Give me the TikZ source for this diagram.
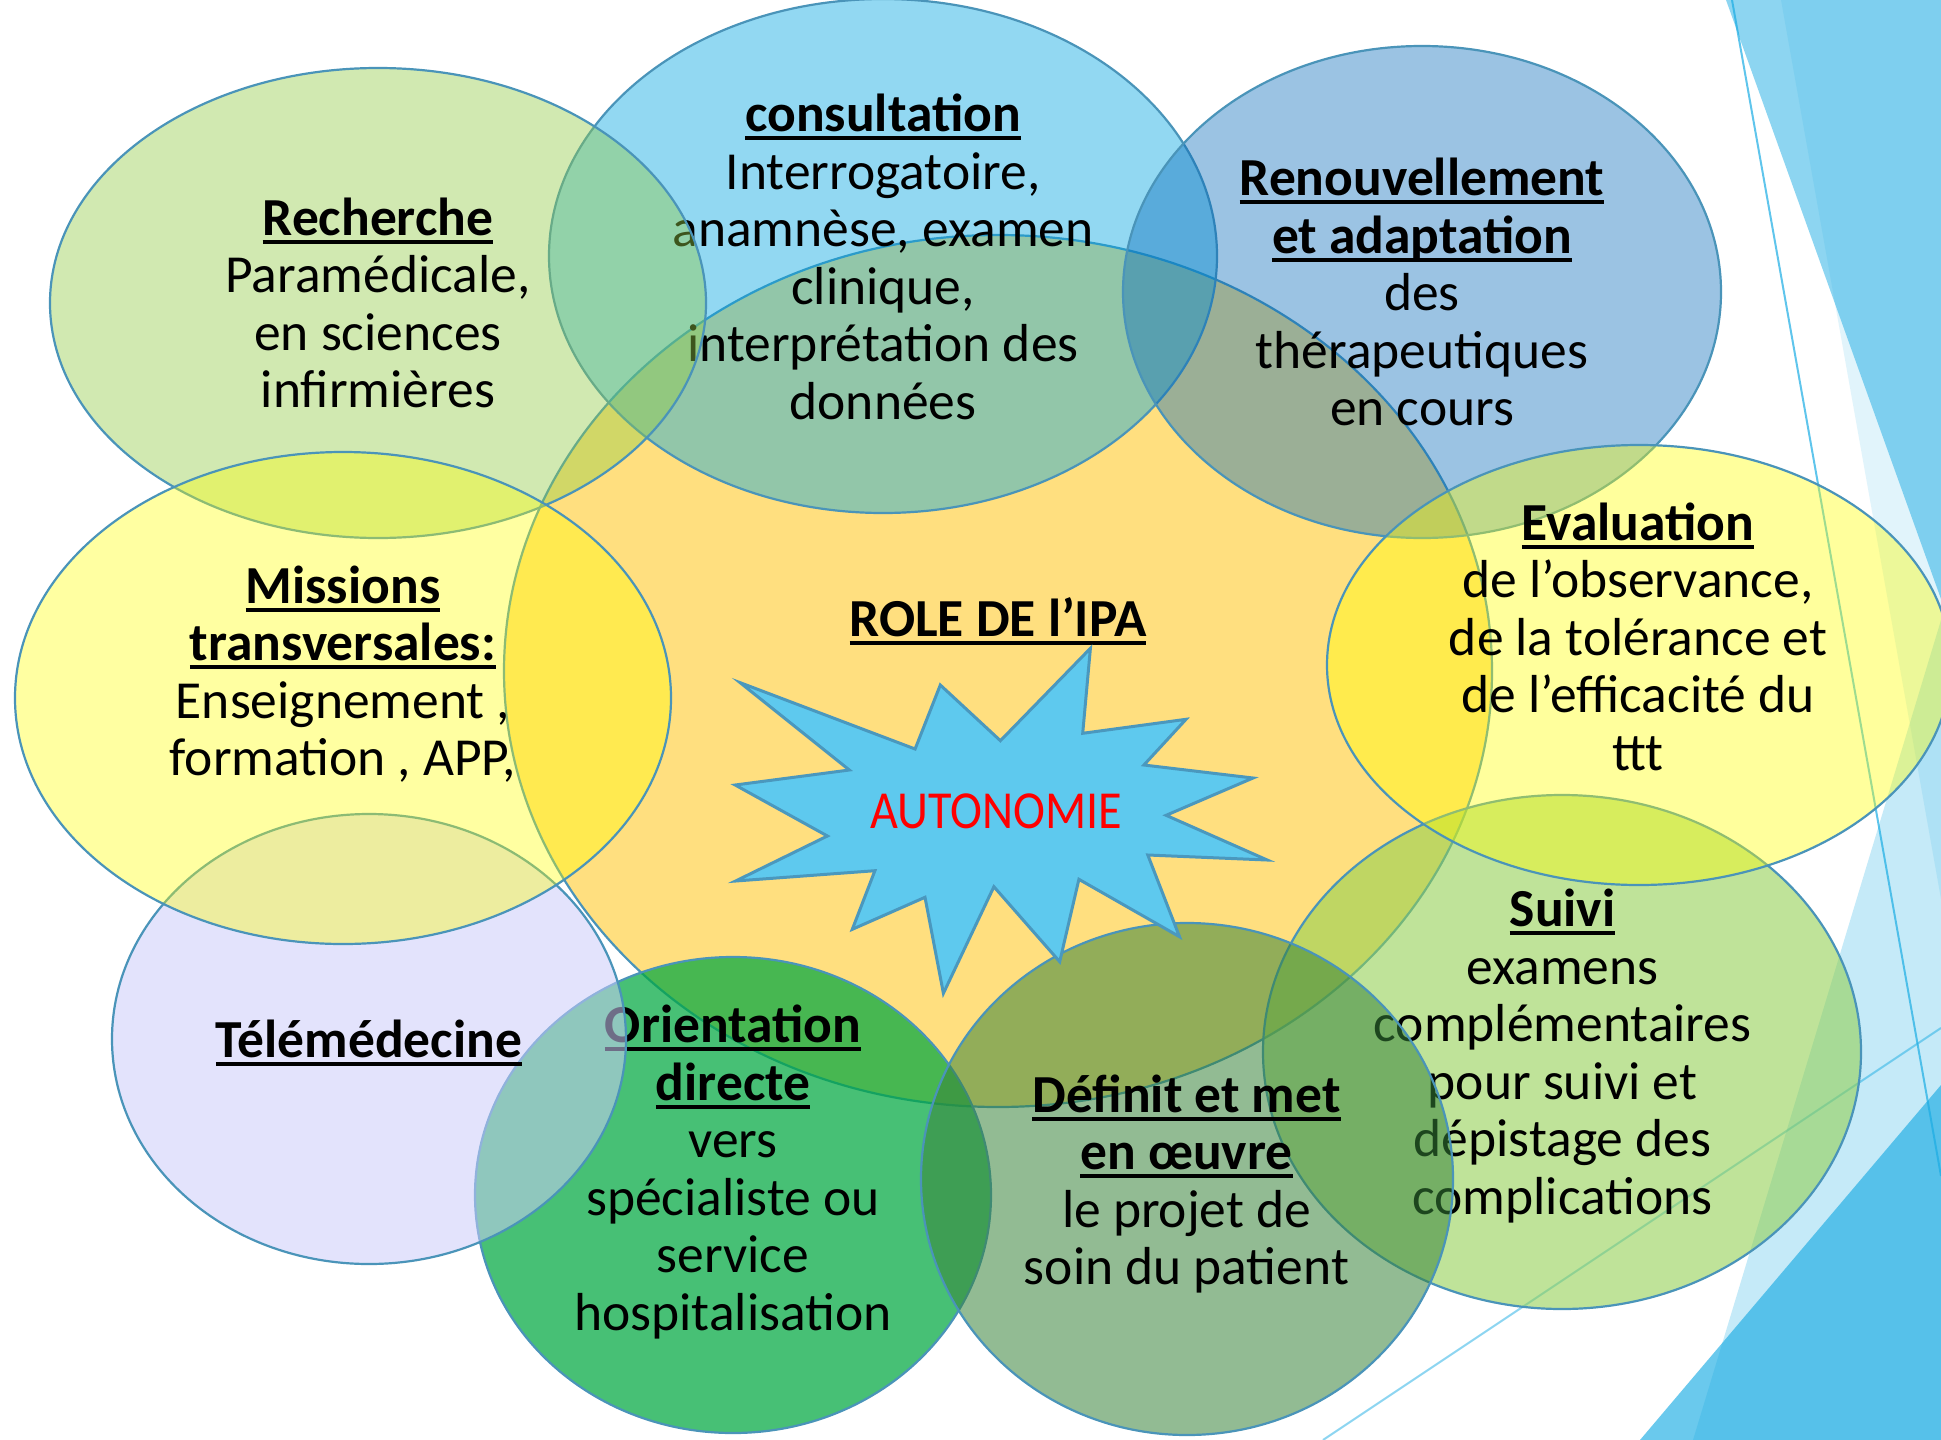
\documentclass[tikz,border=0pt]{standalone}
\usepackage{fontspec}
\setmainfont{Carlito}
\usepackage{graphicx}
\definecolor{facet}{HTML}{1CADE4}
\definecolor{cOrange}{RGB}{255,192,0}
\definecolor{cOrient}{RGB}{0,168,64}
\definecolor{cTele}{RGB}{205,205,251}
\definecolor{cConsult}{RGB}{3,166,226}
\definecolor{cRech}{RGB}{146,204,70}
\definecolor{cMiss}{RGB}{255,255,0}
\definecolor{cRenouv}{RGB}{5,105,185}
\definecolor{cSuivi}{RGB}{146,208,80}
\definecolor{cEval}{RGB}{255,255,0}
\definecolor{cDef}{RGB}{55,131,57}
\definecolor{edgeblue}{HTML}{4A94B9}
\definecolor{starfill}{RGB}{94,201,238}
\definecolor{staredge}{RGB}{74,152,190}
\newcommand{\ulbox}[1]{\setbox0=\hbox{\bfseries #1}\rlap{\rule[-8.5pt]{\wd0}{4pt}}\box0}
\begin{document}
\begin{tikzpicture}[x=1pt,y=-1pt,
  bubble/.style 2 args={fill=#1,fill opacity=#2,draw=edgeblue,line width=2.2pt},
  txt/.style={align=center,inner sep=0pt,font=\fontsize{53.5}{57.5}\selectfont,text=black},
  facettri/.style={fill=facet,fill opacity=#1},
  facetline/.style={draw=facet,draw opacity=#1,line width=2pt}]
\useasboundingbox (0,0) rectangle (1941,1440);
\fill[white] (0,0) rectangle (1941,1440);
% background facets
\fill[facettri=0.5] (1726,0) -- (1941,0) -- (1941,599) -- cycle;
\fill[facettri=0.13] (1781,0) -- (1941,0) -- (1941,899) -- cycle;
\fill[facettri=0.656] (1640,1440) -- (1941,1085) -- (1941,1440) -- cycle;
\fill[facettri=0.255] (1693,1440) -- (1941,620) -- (1941,1440) -- cycle;
\coordinate (l1a) at (1732,0); \coordinate (l1b) at (1941,1176);
\coordinate (l2a) at (1323,1440); \coordinate (l2b) at (1941,1028);
\draw[facetline=0.7] (l1a) -- (l1b);
\draw[facetline=0.5] (l2a) -- (l2b);
% central
\path[bubble={cOrange}{0.5}] (998,671) ellipse [x radius=494pt, y radius=436pt];
\node[txt] (role) at (998,625) {\strut\ulbox{ROLE DE l’IPA}};
% orientation
\path[bubble={cOrient}{0.72}] (733,1195) ellipse [x radius=258pt, y radius=238pt];
\node[txt] (orientation) at (733,1175) {\strut\ulbox{Orientation}\\\strut\ulbox{directe}\\\strut vers\\\strut spécialiste ou\\\strut service\\\strut hospitalisation};
% telemedecine
\path[bubble={cTele}{0.54}] (369,1039) ellipse [x radius=257pt, y radius=225pt];
\node[txt] (tele) at (369,1046) {\strut\ulbox{Télémédecine}};
% consultation
\path[bubble={cConsult}{0.43}] (883,256) ellipse [x radius=334pt, y radius=257pt];
\node[txt] (consultation) at (883,264) {\strut\ulbox{consultation}\\\strut Interrogatoire,\\\strut anamnèse, examen\\\strut clinique,\\\strut interprétation des\\\strut données};
% recherche
\path[bubble={cRech}{0.42}] (378,303) ellipse [x radius=328pt, y radius=235pt];
\node[txt] (recherche) at (378,310) {\strut\ulbox{Recherche}\\\strut Paramédicale,\\\strut en sciences\\\strut infirmières};
% missions
\path[bubble={cMiss}{0.37}] (343,698) ellipse [x radius=328pt, y radius=246pt];
\node[txt] (missions) at (343,678) {\strut\ulbox{Missions}\\\strut\ulbox{transversales:}\\\strut Enseignement ,\\\strut formation , APP,};
% renouvellement
\path[bubble={cRenouv}{0.40}] (1422,292) ellipse [x radius=299pt, y radius=246pt];
\node[txt] (renouv) at (1422,299) {\strut\ulbox{Renouvellement}\\\strut\ulbox{et adaptation}\\\strut des\\\strut thérapeutiques\\\strut en cours};
% suivi
\path[bubble={cSuivi}{0.58}] (1562,1052) ellipse [x radius=299pt, y radius=257pt];
\node[txt] (suivi) at (1562.5,1059) {\strut\ulbox{Suivi}\\\strut examens\\\strut complémentaires\\\strut pour suivi et\\\strut dépistage des\\\strut complications};
% evaluation
\path[bubble={cEval}{0.39}] (1639,665) ellipse [x radius=312pt, y radius=220pt];
\node[txt] (evaluation) at (1638,643.5) {\strut\ulbox{Evaluation}\\\strut de l’observance,\\\strut de la tolérance et\\\strut de l’efficacité du\\\strut ttt};
% definit
\path[bubble={cDef}{0.54}] (1187,1179) ellipse [x radius=266pt, y radius=256pt];
\node[txt] (definit) at (1186.5,1187) {\strut\ulbox{Définit et met}\\\strut\ulbox{en œuvre}\\\strut le projet de\\\strut soin du patient};
% star
\draw[fill=starfill,draw=staredge,line width=3pt,line join=miter]
  (740.2,682.7) -- (915.1,749.0) -- (940.3,685.0) -- (1000.4,740.7) --
  (1090.4,648.3) -- (1082.7,733.3) -- (1186.0,719.3) -- (1143.9,765.0) --
  (1253.0,778.0) -- (1166.1,815.3) -- (1267.2,860.0) -- (1147.8,855.0) --
  (1179.5,936.7) -- (1078.9,879.3) -- (1059.7,961.7) -- (993.9,886.7) --
  (943.4,993.3) -- (925.0,897.3) -- (852.3,929.3) -- (874.9,870.7) --
  (735.6,881.0) -- (827.4,836.0) -- (735.2,785.0) -- (849.3,770.0) -- cycle;
\node[txt,text=red] (autonomie) at (996.5,816.5) {\strut\scalebox{0.9}[1]{AUTONOMIE}};
\end{tikzpicture}
\end{document}
